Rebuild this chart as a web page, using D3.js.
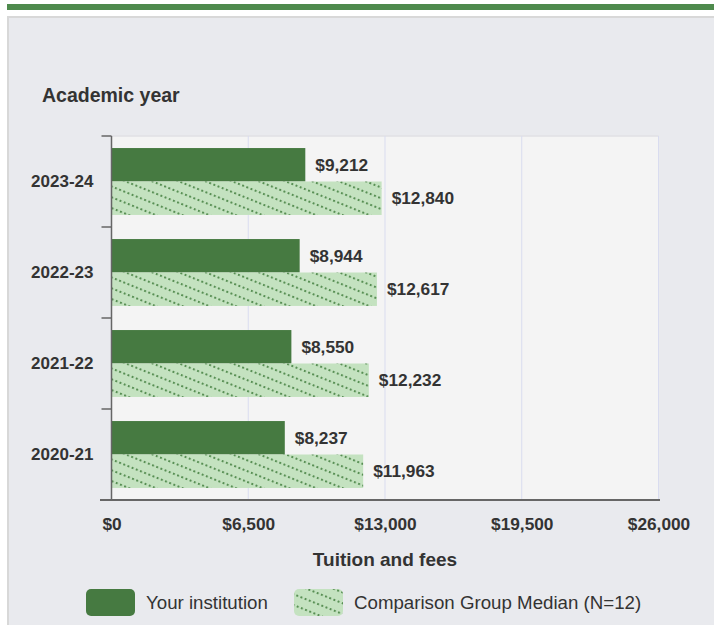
<!DOCTYPE html>
<html lang="en">
<head>
    <meta charset="UTF-8">
    <title>Tuition and fees</title>
    <style>
        body {
            margin: 0;
            padding: 0;
            background: #ffffff;
            font-family: "Liberation Sans", Arial, sans-serif;
        }
        svg { display: block; }
        .tick text { font-family: "Liberation Sans", Arial, sans-serif; }
    </style>
</head>
<body>

<div id="chart"></div>

<script src="https://d3js.org/d3.v7.min.js"></script>
<script>
    // Data
    const years = ["2023-24", "2022-23", "2021-22", "2020-21"];
    const series = ["Your institution", "Comparison Group Median (N=12)"];
    const institution = [9212, 8944, 8550, 8237];
    const median = [12840, 12617, 12232, 11963];
    const xTicks = [0, 6500, 13000, 19500, 26000];

    const width = 714, height = 625;
    const plot = { left: 111.5, right: 658.5, top: 136, bottom: 500 };

    const dark = "#467a41";
    const light = "#c4e2c0";

    const svg = d3.select("#chart").append("svg")
        .attr("width", width)
        .attr("height", height);

    // hatch pattern for the comparison bars
    const defs = svg.append("defs");
    const pat = defs.append("pattern")
        .attr("id", "hatch")
        .attr("patternUnits", "userSpaceOnUse")
        .attr("width", 4.5)
        .attr("height", 10)
        .attr("patternTransform", "rotate(22)");
    pat.append("rect").attr("width", 4.5).attr("height", 10).attr("fill", light);
    pat.append("rect").attr("x", 0).attr("y", 4).attr("width", 2).attr("height", 2)
        .attr("fill", "#3d7a3a").attr("opacity", 0.8);

    // top decoration + panel
    svg.append("rect").attr("x", 7).attr("y", 4).attr("width", width).attr("height", 6)
        .attr("fill", "#4e8a4d");
    svg.append("rect").attr("x", 8).attr("y", 17).attr("width", width + 10).attr("height", height + 10)
        .attr("fill", "#e9eaee").attr("stroke", "#d8d8d8").attr("stroke-width", 2);

    // scales
    const x = d3.scaleLinear().domain([0, 26000]).range([plot.left, plot.right]);
    const yCat = d3.scaleBand().domain(years).range([plot.top, plot.bottom]).padding(0);
    const ySub = d3.scaleBand().domain(series).range([0, yCat.bandwidth()])
        .paddingInner(0).paddingOuter(0.36);

    // plot background
    svg.append("rect")
        .attr("x", plot.left).attr("y", plot.top)
        .attr("width", plot.right - plot.left).attr("height", plot.bottom - plot.top)
        .attr("fill", "#f4f4f4");
    svg.append("line")
        .attr("x1", plot.left).attr("x2", plot.right)
        .attr("y1", plot.top).attr("y2", plot.top)
        .attr("stroke", "#e0e0e4").attr("stroke-width", 1.5);

    // gridlines
    svg.append("g").selectAll("line")
        .data(xTicks.slice(1))
        .join("line")
        .attr("x1", d => x(d)).attr("x2", d => x(d))
        .attr("y1", plot.top).attr("y2", plot.bottom)
        .attr("stroke", "#d9dcef").attr("stroke-width", 1);

    // bars
    const rows = years.map((y, i) => ({ year: y, values: [institution[i], median[i]] }));

    const group = svg.append("g").selectAll("g")
        .data(rows)
        .join("g")
        .attr("transform", d => `translate(0,${yCat(d.year)})`);

    group.selectAll("rect")
        .data(d => d.values.map((v, j) => ({ key: series[j], value: v, j })))
        .join("rect")
        .attr("x", x(0))
        .attr("y", d => ySub(d.key))
        .attr("width", d => x(d.value) - x(0))
        .attr("height", ySub.bandwidth())
        .attr("fill", d => d.j === 0 ? dark : "url(#hatch)");

    group.selectAll("text")
        .data(d => d.values.map((v, j) => ({ key: series[j], value: v })))
        .join("text")
        .attr("x", d => x(d.value) + 10)
        .attr("y", d => ySub(d.key) + ySub.bandwidth() / 2)
        .attr("dy", "0.36em")
        .attr("font-size", "17.3px")
        .attr("font-weight", "bold")
        .attr("fill", "#333")
        .text(d => d3.format("$,")(d.value));

    // y axis
    const yAxis = svg.append("g")
        .attr("transform", `translate(${plot.left},0)`)
        .call(d3.axisLeft(yCat).tickSize(0).tickPadding(18));
    yAxis.select(".domain").remove();
    yAxis.selectAll("text")
        .attr("font-size", "17px")
        .attr("font-weight", "bold")
        .attr("fill", "#333");

    svg.append("line")
        .attr("x1", plot.left).attr("x2", plot.left)
        .attr("y1", plot.top).attr("y2", plot.bottom)
        .attr("stroke", "#666").attr("stroke-width", 1.5);
    svg.append("g").selectAll("line")
        .data(years)
        .join("line")
        .attr("x1", plot.left - 10).attr("x2", plot.left)
        .attr("y1", d => yCat(d)).attr("y2", d => yCat(d))
        .attr("stroke", "#666").attr("stroke-width", 1.5);

    // x axis
    const xAxis = svg.append("g")
        .attr("transform", `translate(0,${plot.bottom})`)
        .call(d3.axisBottom(x).tickValues(xTicks).tickSize(0).tickPadding(18)
            .tickFormat(d3.format("$,")));
    xAxis.select(".domain").remove();
    xAxis.selectAll("text")
        .attr("font-size", "17.3px")
        .attr("font-weight", "bold")
        .attr("fill", "#333");

    svg.append("line")
        .attr("x1", 100).attr("x2", 660)
        .attr("y1", plot.bottom).attr("y2", plot.bottom)
        .attr("stroke", "#666").attr("stroke-width", 2);

    // axis titles
    svg.append("text")
        .attr("x", 42).attr("y", 102)
        .attr("font-size", "19.5px")
        .attr("font-weight", "bold")
        .attr("fill", "#333")
        .text("Academic year");

    svg.append("text")
        .attr("x", (plot.left + plot.right) / 2).attr("y", 566)
        .attr("text-anchor", "middle")
        .attr("font-size", "19px")
        .attr("font-weight", "bold")
        .attr("fill", "#333")
        .text("Tuition and fees");

    // legend
    const legendX = [86, 294];
    const legend = svg.append("g").selectAll("g")
        .data(series)
        .join("g")
        .attr("transform", (d, i) => `translate(${legendX[i]},589)`);
    legend.append("rect")
        .attr("width", 49).attr("height", 27).attr("rx", 5)
        .attr("fill", (d, i) => i === 0 ? dark : "url(#hatch)");
    legend.append("text")
        .attr("x", 60).attr("y", 13.5).attr("dy", "0.36em")
        .attr("font-size", "18.7px")
        .attr("fill", "#333")
        .text(d => d);
</script>

</body>
</html>
